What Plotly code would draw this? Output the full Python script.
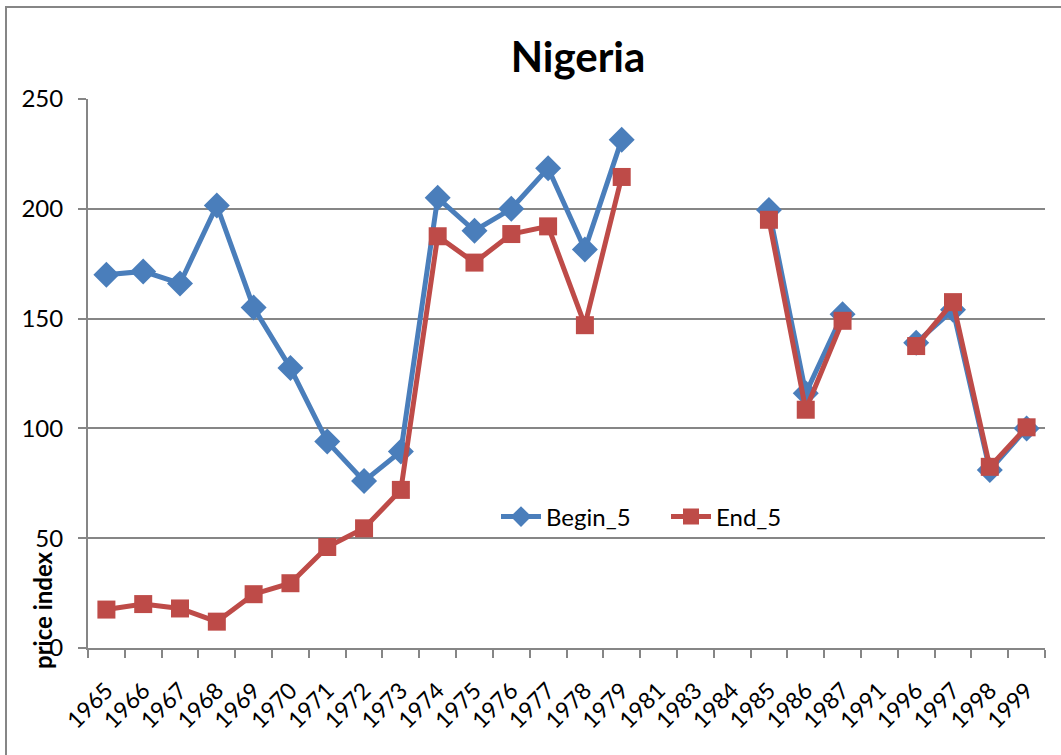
import plotly.graph_objects as go

# data
years = ["1965", "1966", "1967", "1968", "1969", "1970", "1971", "1972", "1973",
         "1974", "1975", "1976", "1977", "1978", "1979", "1981", "1983", "1984",
         "1985", "1986", "1987", "1991", "1996", "1997", "1998", "1999"]
begin_5 = [170, 171.5, 166, 201.5, 155, 127.5, 94, 76, 89.5,
           205, 190, 200, 218.5, 181.5, 231.5, None, None, None,
           199.5, 116, 152, None, 139, 154, 81, 100]
end_5 = [17.5, 20, 18, 12, 24.5, 29.5, 46, 54.5, 72,
         187.5, 175.5, 188.5, 192, 147, 214.5, None, None, None,
         195, 108.5, 149, None, 137.5, 157.5, 82.5, 100.5]

FONT = "Lato, 'Open Sans', sans-serif"
BLUE = "#4A7EBB"
RED = "#BE4B48"
GRID = "#868686"

# plot area in pixels (left, right, top, bottom)
L, R, T, B = 88, 1045, 99, 648
W, H = 1061, 755

fig = go.Figure()
fig.add_trace(go.Scatter(
    x=years, y=begin_5, name="Begin_5", mode="lines+markers",
    line=dict(color=BLUE, width=5),
    marker=dict(symbol="diamond", size=20, color=BLUE),
    connectgaps=False, cliponaxis=False
))
fig.add_trace(go.Scatter(
    x=years, y=end_5, name="End_5", mode="lines+markers",
    line=dict(color=RED, width=5),
    marker=dict(symbol="square", size=18, color=RED),
    connectgaps=False, cliponaxis=False
))

pw, ph = R - L, B - T


def px_x(x):
    return (x - L) / pw


def px_y(y):
    return (B - y) / ph


fig.update_layout(
    width=W, height=H,
    margin=dict(l=L, r=W - R, t=T, b=H - B, autoexpand=False),
    paper_bgcolor="white", plot_bgcolor="white",
    font=dict(family=FONT, color="black"),
    title=dict(text="<b>Nigeria</b>", font=dict(size=42, family=FONT),
               x=578 / W, xanchor="center", y=1 - 57 / H, yanchor="middle"),
    xaxis=dict(type="category", categoryorder="array", categoryarray=years,
               range=[-0.5, len(years) - 0.5], autorange=False,
               showgrid=False, showline=True, linecolor=GRID, linewidth=2,
               ticks="outside", ticklen=8, tickcolor=GRID, tickwidth=2,
               tickson="boundaries", tickangle=-45, automargin=False,
               ticklabelstandoff=18,
               tickfont=dict(size=23, family=FONT), zeroline=False),
    yaxis=dict(range=[0, 250], dtick=50, showgrid=True, gridcolor=GRID, gridwidth=2,
               showline=True, linecolor=GRID, linewidth=2, automargin=False,
               ticks="outside", ticklen=8, tickcolor=GRID, tickwidth=2,
               ticklabelstandoff=10,
               tickfont=dict(size=24, family=FONT), zeroline=False),
    legend=dict(orientation="h", x=px_x(496), xanchor="left",
                y=px_y(517), yanchor="middle", bgcolor="rgba(0,0,0,0)",
                font=dict(size=24, family=FONT), itemwidth=40, tracegroupgap=0,
                entrywidth=115),
    showlegend=True,
)

# y axis title placed low, as in the reference
fig.add_annotation(text="<b>price index</b>", xref="paper", yref="paper",
                   x=px_x(42), y=px_y(610), textangle=-90, showarrow=False,
                   font=dict(size=24, family=FONT), xanchor="center", yanchor="middle")

# outer chart border
fig.add_shape(type="rect", xref="paper", yref="paper",
              x0=px_x(6), x1=px_x(1075), y0=px_y(770), y1=px_y(7),
              line=dict(color=GRID, width=2), fillcolor="rgba(0,0,0,0)", layer="below")

fig.write_html("out.html", config={"displayModeBar": False},
               post_script="document.body.style.margin='0';")
